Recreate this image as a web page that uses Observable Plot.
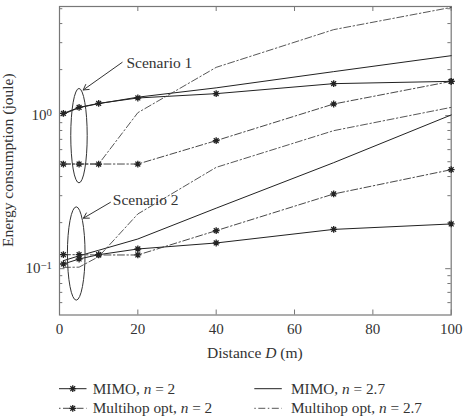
<!DOCTYPE html>
<html><head><meta charset="utf-8">
<script src="https://cdn.jsdelivr.net/npm/d3@7"></script>
<script src="https://cdn.jsdelivr.net/npm/@observablehq/plot@0.6"></script>
<style>
body{margin:0;background:#fff;}
#chart{width:465px;height:416px;font-family:"Liberation Serif",serif;color:#333;}
#chart svg{display:block;}
</style></head><body><div id="chart"></div>
<script>
// ---- data ----
const distances = [1, 5, 10, 20, 40, 70, 100];
// Scenario 1
const s1MimoN2   = [1.035, 1.133, 1.203, 1.305, 1.393, 1.619, 1.676];
const s1MimoN27  = [1.023, 1.128, 1.198, 1.321, 1.52, 1.94, 2.466];
const s1MultiN2  = [0.483, 0.483, 0.483, 0.483, 0.687, 1.192, 1.676];
const s1MultiN27 = [0.483, 0.483, 0.483, 1.046, 2.069, 3.65, 5.1];
// Scenario 2
const s2MimoN2   = [0.1073, 0.1157, 0.1234, 0.1345, 0.1472, 0.1806, 0.196];
const s2MimoN27  = [0.1128, 0.1213, 0.1319, 0.1563, 0.2486, 0.493, 1.011];
const s2MultiN2  = [0.1234, 0.1234, 0.1229, 0.1229, 0.1772, 0.3078, 0.4436];
const s2MultiN27 = [0.102, 0.1023, 0.1198, 0.2278, 0.4594, 0.798, 1.133];

const xTicks = [0, 20, 40, 60, 80, 100];
const yMajorTicks = [0.1, 1];
const yTickLabels = ["10^\u22121", "10^0"];
const yMinorTicks = [0.06, 0.07, 0.08, 0.09, 0.2, 0.3, 0.4, 0.5, 0.6, 0.7, 0.8, 0.9, 2, 3, 4, 5];

const legendNames = ["MIMO", "MIMO", "Multihop opt", "Multihop opt"];
const legendN = ["2", "2.7", "2", "2.7"];
const seriesKeys = ["mimo2", "mimo27", "multi2", "multi27"];

const scenarioLabels = ["Scenario 1", "Scenario 2"];
const labelX = [17.1, 13.6];
const labelY = [2.22, 0.281];
const arrowFromX = [16, 13], arrowFromY = [2.23, 0.2713];
const arrowToX = [6.05, 6.1], arrowToY = [1.472, 0.2138];
const ellipseX = [5.1, 4.4], ellipseHalfW = [2.1, 2.25];
const ellipseTop = [1.495, 0.2517], ellipseBottom = [0.361, 0.0618];

// ---- build table ----
const seriesValues = {
  1: {mimo2: s1MimoN2, mimo27: s1MimoN27, multi2: s1MultiN2, multi27: s1MultiN27},
  2: {mimo2: s2MimoN2, mimo27: s2MimoN27, multi2: s2MultiN2, multi27: s2MultiN27}
};
const rows = [];
for (const sc of [1, 2]) for (const k of seriesKeys)
  seriesValues[sc][k].forEach((v, i) => rows.push({scenario: sc, key: k, distance: distances[i], energy: v}));

// ---- styles ----
const DASHDOT = "7,2.5,1.5,2.5";
const styles = {
  mimo2:   {dash: null, marker: true,  stroke: "#222", width: 1},
  mimo27:  {dash: null, marker: false, stroke: "#222", width: 1},
  multi2:  {dash: DASHDOT, marker: true,  stroke: "#333", width: 0.9},
  multi27: {dash: DASHDOT, marker: false, stroke: "#444", width: 0.9}
};
const star8 = {draw(ctx, size) {
  const r = Math.sqrt(size / Math.PI), d = r * Math.SQRT1_2;
  ctx.moveTo(-r, 0); ctx.lineTo(r, 0); ctx.moveTo(0, -r); ctx.lineTo(0, r);
  ctx.moveTo(-d, -d); ctx.lineTo(d, d); ctx.moveTo(-d, d); ctx.lineTo(d, -d);
}};

const W = 465, H = 370;
const mL = 59, mR = 14.3, mT = 6, mB = 55.5;
const frameW = W - mL - mR, frameH = H - mT - mB;
const FONT = "Liberation Serif";
const AX = "#777";

const lineMarks = [];
for (const k of seriesKeys) {
  const st = styles[k];
  const data = rows.filter(r => r.key === k);
  lineMarks.push(Plot.line(data, {x: "distance", y: "energy", z: "scenario", stroke: st.stroke,
    strokeWidth: st.width, strokeDasharray: st.dash ?? undefined}));
  if (st.marker) lineMarks.push(Plot.dot(data, {x: "distance", y: "energy", symbol: star8, r: 3.4,
    fill: "none", stroke: "#222", strokeWidth: 1.3}));
}

const sx = s => (typeof s === "function" ? s : s.apply);

const ellipses = (index, scales, values, dims) => {
  const X = sx(scales.x), Y = sx(scales.y);
  const g = d3.create("svg:g").attr("fill", "none").attr("stroke", "#333").attr("stroke-width", 1);
  ellipseX.forEach((cx, i) => {
    const y1 = Y(ellipseTop[i]), y2 = Y(ellipseBottom[i]);
    g.append("ellipse").attr("cx", X(cx)).attr("cy", (y1 + y2) / 2)
      .attr("rx", X(cx + ellipseHalfW[i]) - X(cx)).attr("ry", (y2 - y1) / 2);
  });
  return g.node();
};

const axisTitles = (index, scales, values, dims) => {
  const g = d3.create("svg:g").attr("fill", "#333").attr("font-size", 15.5).attr("font-family", FONT);
  const cx = dims.marginLeft + (dims.width - dims.marginLeft - dims.marginRight) / 2;
  const t = g.append("text").attr("x", cx).attr("y", 357.5).attr("text-anchor", "middle");
  t.append("tspan").text("Distance ");
  t.append("tspan").attr("font-style", "italic").text("D");
  t.append("tspan").text(" (m)");
  const cy = dims.marginTop + (dims.height - dims.marginTop - dims.marginBottom) / 2;
  g.append("text").attr("transform", `translate(13,${cy}) rotate(-90)`).attr("text-anchor", "middle")
    .text("Energy consumption (joule)");
  return g.node();
};

const plot = Plot.plot({
  width: W, height: H,
  marginLeft: mL, marginRight: mR, marginTop: mT, marginBottom: mB,
  style: {fontFamily: FONT, fontSize: "15px", color: "#333", background: "#fff"},
  x: {domain: [0, 100]},
  y: {type: "log", domain: [0.0498, 5.17]},
  marks: [
    // ticks (inward, on all four sides)
    Plot.tickX(xTicks, {x: d => d, insetTop: frameH - 5, stroke: AX}),
    Plot.tickX(xTicks, {x: d => d, insetBottom: frameH - 5, stroke: AX}),
    Plot.tickY(yMajorTicks, {y: d => d, insetRight: frameW - 5.5, stroke: AX}),
    Plot.tickY(yMajorTicks, {y: d => d, insetLeft: frameW - 5.5, stroke: AX}),
    Plot.tickY(yMinorTicks, {y: d => d, insetRight: frameW - 3.3, stroke: AX}),
    Plot.tickY(yMinorTicks, {y: d => d, insetLeft: frameW - 3.3, stroke: AX}),
    Plot.axisX(xTicks, {tickSize: 0, tickPadding: 8, label: null, fill: "#333"}),
    Plot.axisY(yMajorTicks, {tickSize: 0, tickPadding: 7.5, label: null, fill: "#333",
      tickFormat: d => yTickLabels[yMajorTicks.indexOf(d)]}),
    Plot.frame({stroke: AX, strokeWidth: 1.2}),
    ...lineMarks,
    ellipses,
    Plot.arrow(scenarioLabels, {x1: (d, i) => arrowFromX[i], y1: (d, i) => arrowFromY[i],
      x2: (d, i) => arrowToX[i], y2: (d, i) => arrowToY[i], stroke: "#333", strokeWidth: 1, headLength: 9}),
    Plot.text(scenarioLabels, {x: (d, i) => labelX[i], y: (d, i) => labelY[i], text: d => d,
      textAnchor: "start", fill: "#333", fontSize: 15.5}),
    axisTitles
  ]
});

// superscripts for the y tick labels
d3.select(plot).selectAll('g[aria-label="y-axis tick label"] text').each(function () {
  const txt = this.textContent;
  const [base, exp] = txt.split("^");
  if (exp === undefined) return;
  this.textContent = base;
  d3.select(this).append("tspan").attr("dy", "-0.45em").attr("font-size", "0.72em").text(exp);
});

document.getElementById("chart").appendChild(plot);

// ---- legend (below the plot) ----
const leg = d3.select("#chart").append("svg").attr("width", W).attr("height", 46)
  .attr("font-family", FONT).attr("font-size", 15.3);
const colSym = [59, 254.3], colText = [92.7, 291], rowY = [18.7, 38.3];
const legendOrder = ["mimo2", "mimo27", "multi2", "multi27"];
legendOrder.forEach((k, i) => {
  const col = i % 2, row = Math.floor(i / 2);
  const st = styles[k];
  const x0 = colSym[col], x1 = x0 + 27.5, y = rowY[row];
  leg.append("line").attr("x1", x0).attr("x2", x1).attr("y1", y).attr("y2", y)
    .attr("stroke", st.stroke).attr("stroke-width", st.width)
    .attr("stroke-dasharray", st.dash ? "1.5,2.5,7,2.5" : null);
  if (st.marker) {
    const p = d3.path(); star8.draw(p, Math.PI * 3.4 * 3.4);
    leg.append("path").attr("d", p.toString()).attr("transform", `translate(${(x0 + x1) / 2},${y})`)
      .attr("fill", "none").attr("stroke", "#222").attr("stroke-width", 1.3);
  }
  const t = leg.append("text").attr("x", colText[col]).attr("y", y + 5).attr("fill", "#333");
  t.append("tspan").text(legendNames[k === "mimo2" || k === "mimo27" ? 0 : 2] + ", ");
  t.append("tspan").attr("font-style", "italic").text("n");
  t.append("tspan").text(" = " + legendN[i]);
});
</script></body></html>
